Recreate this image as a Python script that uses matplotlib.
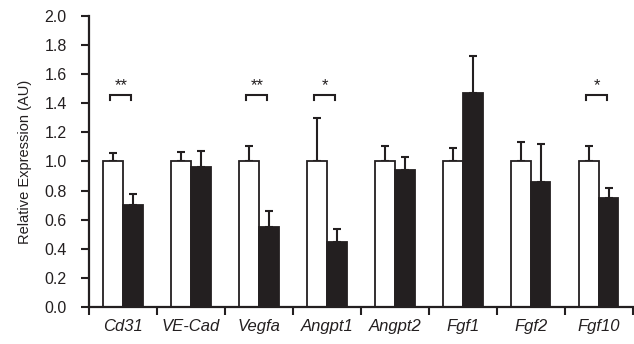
import numpy as np
import matplotlib
matplotlib.use("Agg")
import matplotlib.pyplot as plt

plt.rcParams['font.family'] = ['Liberation Sans', 'DejaVu Sans']

genes = ["Cd31", "VE-Cad", "Vegfa", "Angpt1", "Angpt2", "Fgf1", "Fgf2", "Fgf10"]
ctrl = [1.0, 1.0, 1.0, 1.0, 1.0, 1.0, 1.0, 1.0]
ctrl_err = [0.06, 0.067, 0.108, 0.30, 0.104, 0.095, 0.134, 0.108]
treat = [0.70, 0.964, 0.548, 0.447, 0.94, 1.471, 0.857, 0.749]
treat_err = [0.077, 0.11, 0.114, 0.091, 0.093, 0.254, 0.263, 0.069]
signif = {"Cd31": "**", "Vegfa": "**", "Angpt1": "*", "Fgf10": "*"}

ink = "#231f20"

fig = plt.figure(figsize=(6.34, 3.44), dpi=100)
ax = fig.add_axes([0.1404, 0.1076, 0.8576, 0.8459])

x = np.arange(len(genes))
w = 0.29
ax.bar(x - w / 2, ctrl, w, color="white", edgecolor=ink, linewidth=1.3, zorder=2)
ax.bar(x + w / 2, treat, w, color=ink, edgecolor=ink, linewidth=1.3, zorder=2)
ax.errorbar(x - w / 2, ctrl, yerr=[np.zeros(len(x)), ctrl_err], fmt="none",
            ecolor=ink, elinewidth=1.5, capsize=3, capthick=1.5, zorder=1)
ax.errorbar(x + w / 2, treat, yerr=[np.zeros(len(x)), treat_err], fmt="none",
            ecolor=ink, elinewidth=1.5, capsize=3, capthick=1.5, zorder=1)

# significance brackets
for i, g in enumerate(genes):
    if g in signif:
        x0, x1 = i - w / 2 - 0.04, i + w / 2 - 0.02
        ax.plot([x0, x0, x1, x1], [1.425, 1.46, 1.46, 1.425], color=ink, lw=1.5,
                solid_joinstyle="miter")
        ax.text((x0 + x1) / 2, 1.47, signif[g], ha="center", va="bottom",
                fontsize=12, color=ink)

ax.set_xlim(-0.5, len(genes) - 0.5)
ax.set_ylim(0, 2.0)
ax.set_yticks(np.arange(0, 2.01, 0.2))
ax.set_yticklabels([f"{v:.1f}" for v in np.arange(0, 2.01, 0.2)], fontsize=11.5,
                   color=ink)
ax.set_xticks(np.arange(-0.5, len(genes)))
ax.set_xticklabels([])
ax.set_xticks(x, minor=True)
ax.set_xticklabels(genes, minor=True, fontsize=12, style="italic", color=ink)
ax.tick_params(axis="x", which="minor", length=0, pad=9)
ax.tick_params(axis="x", which="major", length=6, width=1.5, color=ink)
ax.tick_params(axis="y", length=6, width=1.5, color=ink, pad=10)
ax.set_ylabel("Relative Expression (AU)", fontsize=10.5, color=ink, labelpad=9)

for s in ["top", "right"]:
    ax.spines[s].set_visible(False)
for s in ["left", "bottom"]:
    ax.spines[s].set_linewidth(1.6)
    ax.spines[s].set_color(ink)

fig.savefig("out.png", dpi=100)
